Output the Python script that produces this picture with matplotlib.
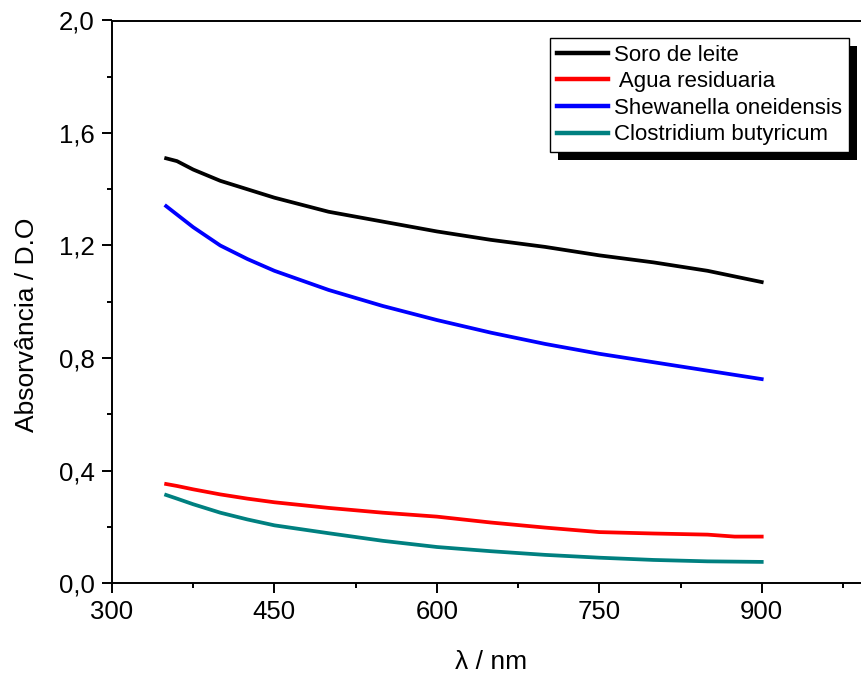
import numpy as np
import matplotlib.pyplot as plt
from matplotlib.patches import Rectangle
from matplotlib.ticker import MultipleLocator, FuncFormatter

plt.rcParams['font.family'] = ['Liberation Sans', 'DejaVu Sans']

# wavelength (nm) and absorbance
wl = [350, 360, 375, 400, 425, 450, 500, 550, 600, 650, 700, 750, 800, 850, 875, 900]
soro = [1.51, 1.50, 1.47, 1.43, 1.40, 1.37, 1.32, 1.285, 1.25, 1.22, 1.195, 1.165, 1.14, 1.11, 1.09, 1.07]
agua = [0.352, 0.345, 0.333, 0.315, 0.30, 0.287, 0.267, 0.25, 0.236, 0.215, 0.197, 0.181, 0.176, 0.172, 0.165, 0.165]
shewanella = [1.34, 1.31, 1.265, 1.20, 1.152, 1.11, 1.042, 0.985, 0.935, 0.89, 0.85, 0.815, 0.785, 0.755, 0.74, 0.725]
clostridium = [0.313, 0.30, 0.28, 0.25, 0.226, 0.205, 0.177, 0.15, 0.128, 0.113, 0.10, 0.09, 0.082, 0.077, 0.076, 0.075]

labels = ['Soro de leite', ' Agua residuaria', 'Shewanella oneidensis', 'Clostridium butyricum']
colors = ['#000000', '#ff0000', '#0000ff', '#008080']

W, H = 861, 677
fig = plt.figure(figsize=(W / 100, H / 100), dpi=100)
ax = fig.add_axes([112 / W, (H - 583) / H, (870 - 112) / W, 562.5 / H])

for ys, lab, c in zip([soro, agua, shewanella, clostridium], labels, colors):
    ax.plot(wl, ys, color=c, lw=2.7, label=lab, solid_joinstyle='round')

ax.set_xlim(300, 1000)
ax.set_ylim(0, 2.0)
ax.xaxis.set_major_locator(MultipleLocator(150))
ax.xaxis.set_minor_locator(MultipleLocator(75))
ax.yaxis.set_major_locator(MultipleLocator(0.4))
ax.yaxis.set_minor_locator(MultipleLocator(0.2))
ax.yaxis.set_major_formatter(FuncFormatter(lambda v, p: f'{v:.1f}'.replace('.', ',')))
ax.tick_params(which='major', length=7.5, width=1.4, labelsize=18.5, pad=5)
ax.tick_params(which='minor', length=3.8, width=1.4)
ax.spines['right'].set_visible(False)
for s in ['left', 'bottom', 'top']:
    ax.spines[s].set_linewidth(1.4)

ax.set_xlabel('λ / nm', fontsize=19, va='center')
ax.set_ylabel('Absorvância / D.O', fontsize=19, va='center')
ax.xaxis.set_label_coords(0.5, (583 - 662) / 562.5)
ax.yaxis.set_label_coords((27 - 112) / 758, (583 - 325) / 562.5)

leg = ax.legend(loc='upper right', bbox_to_anchor=((849 - 112) / 758, (583 - 38) / 562.5),
                borderaxespad=0, fontsize=16, fancybox=False, edgecolor='black',
                framealpha=1, labelspacing=0.25, handlelength=2.3, handletextpad=0.3,
                borderpad=0.3)
leg.get_frame().set_linewidth(1.0)
for h in leg.get_lines():
    h.set_linewidth(3.2)

# offset black shadow behind the legend box
fig.canvas.draw()
bb = leg.get_window_extent()
inv = ax.transAxes.inverted()
(x0, y0) = inv.transform((bb.x0 + 8, bb.y0 - 8))
(x1, y1) = inv.transform((bb.x1 + 8, bb.y1 - 8))
ax.add_patch(Rectangle((x0, y0), x1 - x0, y1 - y0, transform=ax.transAxes,
                       facecolor='black', edgecolor='none', zorder=4, clip_on=False))

fig.savefig('out.png', dpi=100)
